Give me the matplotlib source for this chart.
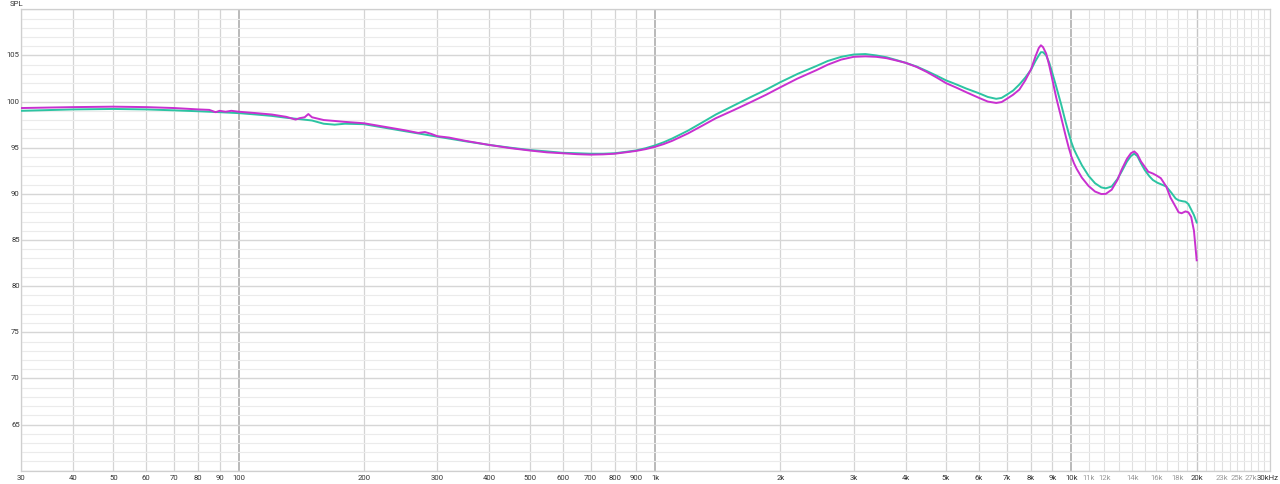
import numpy as np
import matplotlib
matplotlib.use("Agg")
import matplotlib.pyplot as plt

# ---- data (Hz, dB SPL) ----
freq_teal = [30, 40, 50, 60, 70, 80, 85, 90, 100, 110, 120, 130, 140, 150, 160, 170, 180,
             200, 250, 300, 350, 400, 450, 500, 550, 600, 650, 700, 750, 800, 850, 900, 950,
             1000, 1050, 1100, 1200, 1300, 1400, 1550, 1700, 1850, 2000, 2200, 2440, 2600,
             2800, 3000, 3200, 3400, 3600, 3800, 4000, 4250, 4500, 4750, 5000, 5300, 5600,
             6000, 6300, 6600, 6800, 7000, 7250, 7500, 7750, 8000, 8200, 8350, 8450, 8550,
             8700, 8850, 9000, 9200, 9450, 9700, 9850, 10000, 10150, 10300, 10600, 11000,
             11400, 11800, 12100, 12500, 12900, 13200, 13600, 13900, 14160, 14400, 14700,
             15000, 15400, 15700, 16100, 16400, 16900, 17400, 17800, 18100, 18500, 18800,
             19100, 19400, 19700, 20000]
spl_teal = [99.0, 99.15, 99.2, 99.15, 99.05, 98.95, 98.9, 98.85, 98.75, 98.6, 98.45, 98.25,
            98.1, 97.95, 97.6, 97.5, 97.6, 97.55, 96.8, 96.2, 95.7, 95.3, 95.0, 94.75, 94.6,
            94.45, 94.4, 94.35, 94.35, 94.4, 94.55, 94.7, 94.95, 95.25, 95.6, 96.0, 96.85,
            97.75, 98.6, 99.6, 100.5, 101.3, 102.1, 103.0, 103.85, 104.4, 104.85, 105.1,
            105.15, 105.0, 104.8, 104.5, 104.2, 103.8, 103.3, 102.8, 102.3, 101.85, 101.4,
            100.9, 100.5, 100.3, 100.4, 100.75, 101.2, 101.85, 102.6, 103.45, 104.4, 105.0,
            105.35, 105.35, 105.0, 104.2, 103.1, 101.6, 99.7, 97.7, 96.6, 95.6, 94.8, 94.2,
            93.1, 91.95, 91.15, 90.7, 90.6, 90.8, 91.6, 92.4, 93.5, 94.1, 94.35, 94.1, 93.3,
            92.6, 91.9, 91.5, 91.2, 91.05, 90.8, 90.1, 89.5, 89.3, 89.2, 89.15, 88.9, 88.3,
            87.7, 86.9]

freq_mag = [30, 40, 50, 60, 70, 80, 85, 88, 90, 93, 96, 100, 110, 120, 130, 137, 140, 144,
            147, 150, 160, 170, 180, 200, 250, 270, 280, 290, 300, 320, 350, 400, 450, 500,
            550, 600, 650, 700, 750, 800, 850, 900, 950, 1000, 1050, 1100, 1200, 1300, 1400,
            1550, 1700, 1850, 2000, 2200, 2440, 2600, 2800, 3000, 3200, 3400, 3600, 3800,
            4000, 4250, 4500, 4750, 5000, 5300, 5600, 6000, 6300, 6600, 6800, 7000, 7250,
            7500, 7750, 8000, 8200, 8350, 8450, 8550, 8700, 8850, 9000, 9200, 9450, 9700,
            9850, 10000, 10150, 10300, 10600, 11000, 11400, 11800, 12100, 12500, 12900,
            13200, 13600, 13900, 14160, 14400, 14700, 15000, 15300, 15700, 16000, 16400,
            16900, 17300, 17800, 18100, 18400, 18800, 19100, 19400, 19700, 20000]
spl_mag = [99.3, 99.4, 99.45, 99.4, 99.3, 99.15, 99.1, 98.85, 99.0, 98.9, 99.0, 98.9, 98.75,
           98.6, 98.35, 98.05, 98.2, 98.3, 98.65, 98.3, 98.0, 97.9, 97.8, 97.65, 96.9, 96.6,
           96.7, 96.5, 96.25, 96.1, 95.75, 95.3, 94.95, 94.7, 94.5, 94.4, 94.3, 94.25, 94.28,
           94.35, 94.5, 94.65, 94.85, 95.1, 95.4, 95.75, 96.55, 97.4, 98.2, 99.1, 99.95,
           100.75, 101.55, 102.5, 103.4, 104.0, 104.55, 104.85, 104.9, 104.85, 104.7,
           104.45, 104.2, 103.75, 103.2, 102.6, 102.0, 101.5, 101.0, 100.4, 100.0, 99.85,
           99.95, 100.3, 100.75, 101.3, 102.3, 103.5, 104.9, 105.8, 106.1, 105.9, 105.2,
           103.9, 102.4, 100.4, 98.3, 96.2, 95.05, 94.05, 93.3, 92.7, 91.75, 90.85, 90.25,
           89.98, 90.0, 90.45, 91.5, 92.6, 93.8, 94.4, 94.6, 94.3, 93.5, 92.95, 92.4, 92.2,
           92.0, 91.7, 90.8, 89.6, 88.6, 88.0, 87.9, 88.1, 88.0, 87.5, 86.0, 82.8]

x_tick_vals = [30, 40, 50, 60, 70, 80, 90, 100, 200, 300, 400, 500, 600, 700, 800, 900,
               1000, 2000, 3000, 4000, 5000, 6000, 7000, 8000, 9000, 10000, 11000, 12000,
               14000, 16000, 18000, 20000, 23000, 25000, 27000, 30000]
x_tick_labels = ["30", "40", "50", "60", "70", "80", "90", "100", "200", "300", "400", "500",
                 "600", "700", "800", "900", "1k", "2k", "3k", "4k", "5k", "6k", "7k", "8k",
                 "9k", "10k", "11k", "12k", "14k", "16k", "18k", "20k", "23k", "25k", "27k",
                 "30kHz"]
light_labels = ["11k", "12k", "14k", "16k", "18k", "23k", "25k", "27k"]
y_tick_vals = [65, 70, 75, 80, 85, 90, 95, 100, 105]

# ---- figure ----
W, H = 1280, 484
fig = plt.figure(figsize=(W / 100, H / 100), dpi=100)
left, right, bottom, top = 21, 1270, 470.7, 9.3
ax = fig.add_axes([left / W, (H - bottom) / H, (right - left) / W, (bottom - top) / H])
ax.set_xscale("log")
ax.set_xlim(30, 30000)
ax.set_ylim(60, 110)

# grid
vlines = list(range(30, 100, 10)) + list(range(200, 1000, 100)) + \
    list(range(2000, 10000, 1000)) + list(range(11000, 30001, 1000))
for v in vlines:
    if v == 20000:
        c, lw = "#c6c6c6", 1.0
    elif v > 10000:
        c, lw = "#e0e0e0", 0.8
    else:
        c, lw = "#d4d4d4", 0.9
    ax.axvline(v, color=c, lw=lw, zorder=0)
for v in (100, 1000, 10000):
    ax.axvline(v, color="#b4b4b4", lw=1.3, zorder=0)
for yv in range(60, 111):
    if yv % 5 == 0:
        ax.axhline(yv, color="#d6d6d6", lw=1.0, zorder=0)
    else:
        ax.axhline(yv, color="#ebebeb", lw=0.8, zorder=0)

ax.plot(freq_teal, spl_teal, color="#2cc4a2", lw=1.4, zorder=3, solid_joinstyle="round")
ax.plot(freq_mag, spl_mag, color="#c930d0", lw=1.4, zorder=4, solid_joinstyle="round")

for s in ax.spines.values():
    s.set_color("#cfcfcf")
    s.set_linewidth(0.9)

ax.minorticks_off()
ax.set_xticks([])
ax.set_yticks([])

FONT = "Roboto"
FS = 5.6
TXT = "#333333"
xt = ax.get_xaxis_transform()
for v, lab in zip(x_tick_vals, x_tick_labels):
    col = "#9a9a9a" if lab in light_labels else TXT
    if lab == "30kHz":
        fig.text(1279 / W, 1 - 478 / H, lab, fontsize=FS, family=FONT, color=col,
                 ha="right", va="center")
    else:
        ax.text(v, -(478 - bottom) / (bottom - top), lab, transform=xt, fontsize=FS,
                family=FONT, color=col, ha="center", va="center", clip_on=False)

yt = ax.get_yaxis_transform()
for v in y_tick_vals:
    ax.text(-1.2 / (right - left), v, str(v), transform=yt, fontsize=FS, family=FONT,
            color=TXT, ha="right", va="center", clip_on=False)

fig.text(10 / W, 1 - 4.5 / H, "SPL", fontsize=FS, family=FONT, color=TXT,
         ha="left", va="center")

fig.savefig("out.png", dpi=100, facecolor="white")
